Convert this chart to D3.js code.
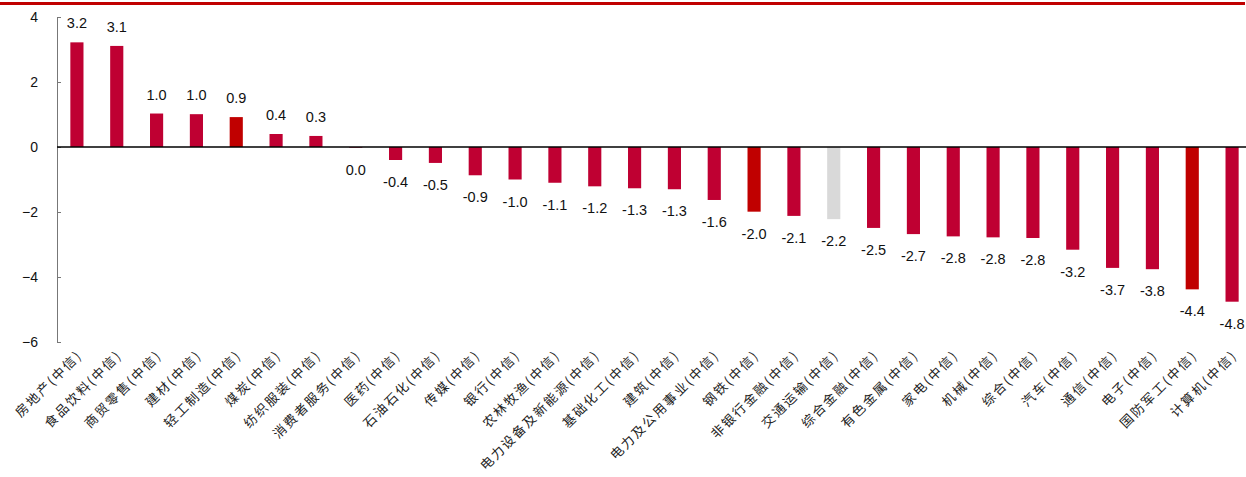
<!DOCTYPE html>
<html>
<head>
<meta charset="utf-8">
<script src="https://d3js.org/d3.v7.min.js"></script>
<style>
  html, body { margin: 0; padding: 0; background: #fff; }
  svg text { font-family: "Liberation Sans", Arial, sans-serif; }
  .cat { font-family: "Noto Sans CJK SC", sans-serif; font-size: 13px; letter-spacing: 2px; fill: #222; }
</style>
</head>
<body>
<div id="chart"></div>
<script>
var categories = ["房地产(中信)", "食品饮料(中信)", "商贸零售(中信)", "建材(中信)", "轻工制造(中信)",
    "煤炭(中信)", "纺织服装(中信)", "消费者服务(中信)", "医药(中信)", "石油石化(中信)",
    "传媒(中信)", "银行(中信)", "农林牧渔(中信)", "电力设备及新能源(中信)", "基础化工(中信)",
    "建筑(中信)", "电力及公用事业(中信)", "钢铁(中信)", "非银行金融(中信)", "交通运输(中信)",
    "综合金融(中信)", "有色金属(中信)", "家电(中信)", "机械(中信)", "综合(中信)",
    "汽车(中信)", "通信(中信)", "电子(中信)", "国防军工(中信)", "计算机(中信)"];
var values = [3.22, 3.11, 1.03, 1.01, 0.92, 0.40, 0.34, -0.02, -0.40, -0.49,
    -0.87, -1.00, -1.10, -1.21, -1.27, -1.30, -1.63, -1.99, -2.12, -2.22,
    -2.49, -2.68, -2.75, -2.78, -2.80, -3.16, -3.72, -3.76, -4.38, -4.76];
// which bars are highlighted
var darkBars = ["轻工制造(中信)", "钢铁(中信)", "国防军工(中信)"];
var greyBars = ["交通运输(中信)"];
var yTicks = [-6, -4, -2, 0, 2, 4];

var W = 1246, H = 477;
var svg = d3.select("#chart").append("svg").attr("width", W).attr("height", H);

// red rule at top
svg.append("rect").attr("x", 0).attr("y", 2).attr("width", 1245).attr("height", 3).attr("fill", "#C00000");

var x = d3.scaleBand().domain(categories).range([57, 1252]).paddingInner(0.67).paddingOuter(0.335);
var y = d3.scaleLinear().domain([-6, 4]).range([342, 17]);

var yAxis = svg.append("g").attr("transform", "translate(57,0)")
    .call(d3.axisRight(y).tickValues(yTicks).tickSize(4).tickFormat(d3.format("d")));
yAxis.selectAll("path, line").attr("stroke", "#777");
yAxis.selectAll("text").attr("x", -19).attr("text-anchor", "end")
    .style("font-size", "14px").attr("fill", "#111");

function barColor(c) {
    if (darkBars.indexOf(c) >= 0) return "#C00000";
    if (greyBars.indexOf(c) >= 0) return "#D9D9D9";
    return "#BF0032";
}

svg.selectAll("rect.bar").data(values).enter().append("rect")
    .attr("class", "bar")
    .attr("x", function(d, i) { return x(categories[i]); })
    .attr("width", x.bandwidth())
    .attr("y", function(d) { return y(Math.max(0, d)); })
    .attr("height", function(d) { return Math.abs(y(d) - y(0)); })
    .attr("fill", function(d, i) { return barColor(categories[i]); });

// zero line
svg.append("line").attr("x1", 57).attr("x2", W).attr("y1", y(0)).attr("y2", y(0))
    .attr("stroke", "#000").attr("stroke-width", 1.5);

svg.selectAll("text.val").data(values).enter().append("text")
    .attr("class", "val")
    .attr("x", function(d, i) { return x(categories[i]) + x.bandwidth() / 2; })
    .attr("y", function(d) { return d >= 0 ? y(d) - 14 : y(Math.min(d, 0)) + 27; })
    .attr("text-anchor", "middle")
    .style("font-size", "14.5px")
    .attr("fill", "#111")
    .text(function(d) { var s = d.toFixed(1); return s === "-0.0" ? "0.0" : s; });

svg.selectAll("text.cat").data(categories).enter().append("text")
    .attr("class", "cat")
    .attr("transform", function(d) {
        return "translate(" + (x(d) + x.bandwidth() / 2 + 6) + ",356) rotate(-45)";
    })
    .attr("text-anchor", "end")
    .text(function(d) { return d; });
</script>
</body>
</html>
